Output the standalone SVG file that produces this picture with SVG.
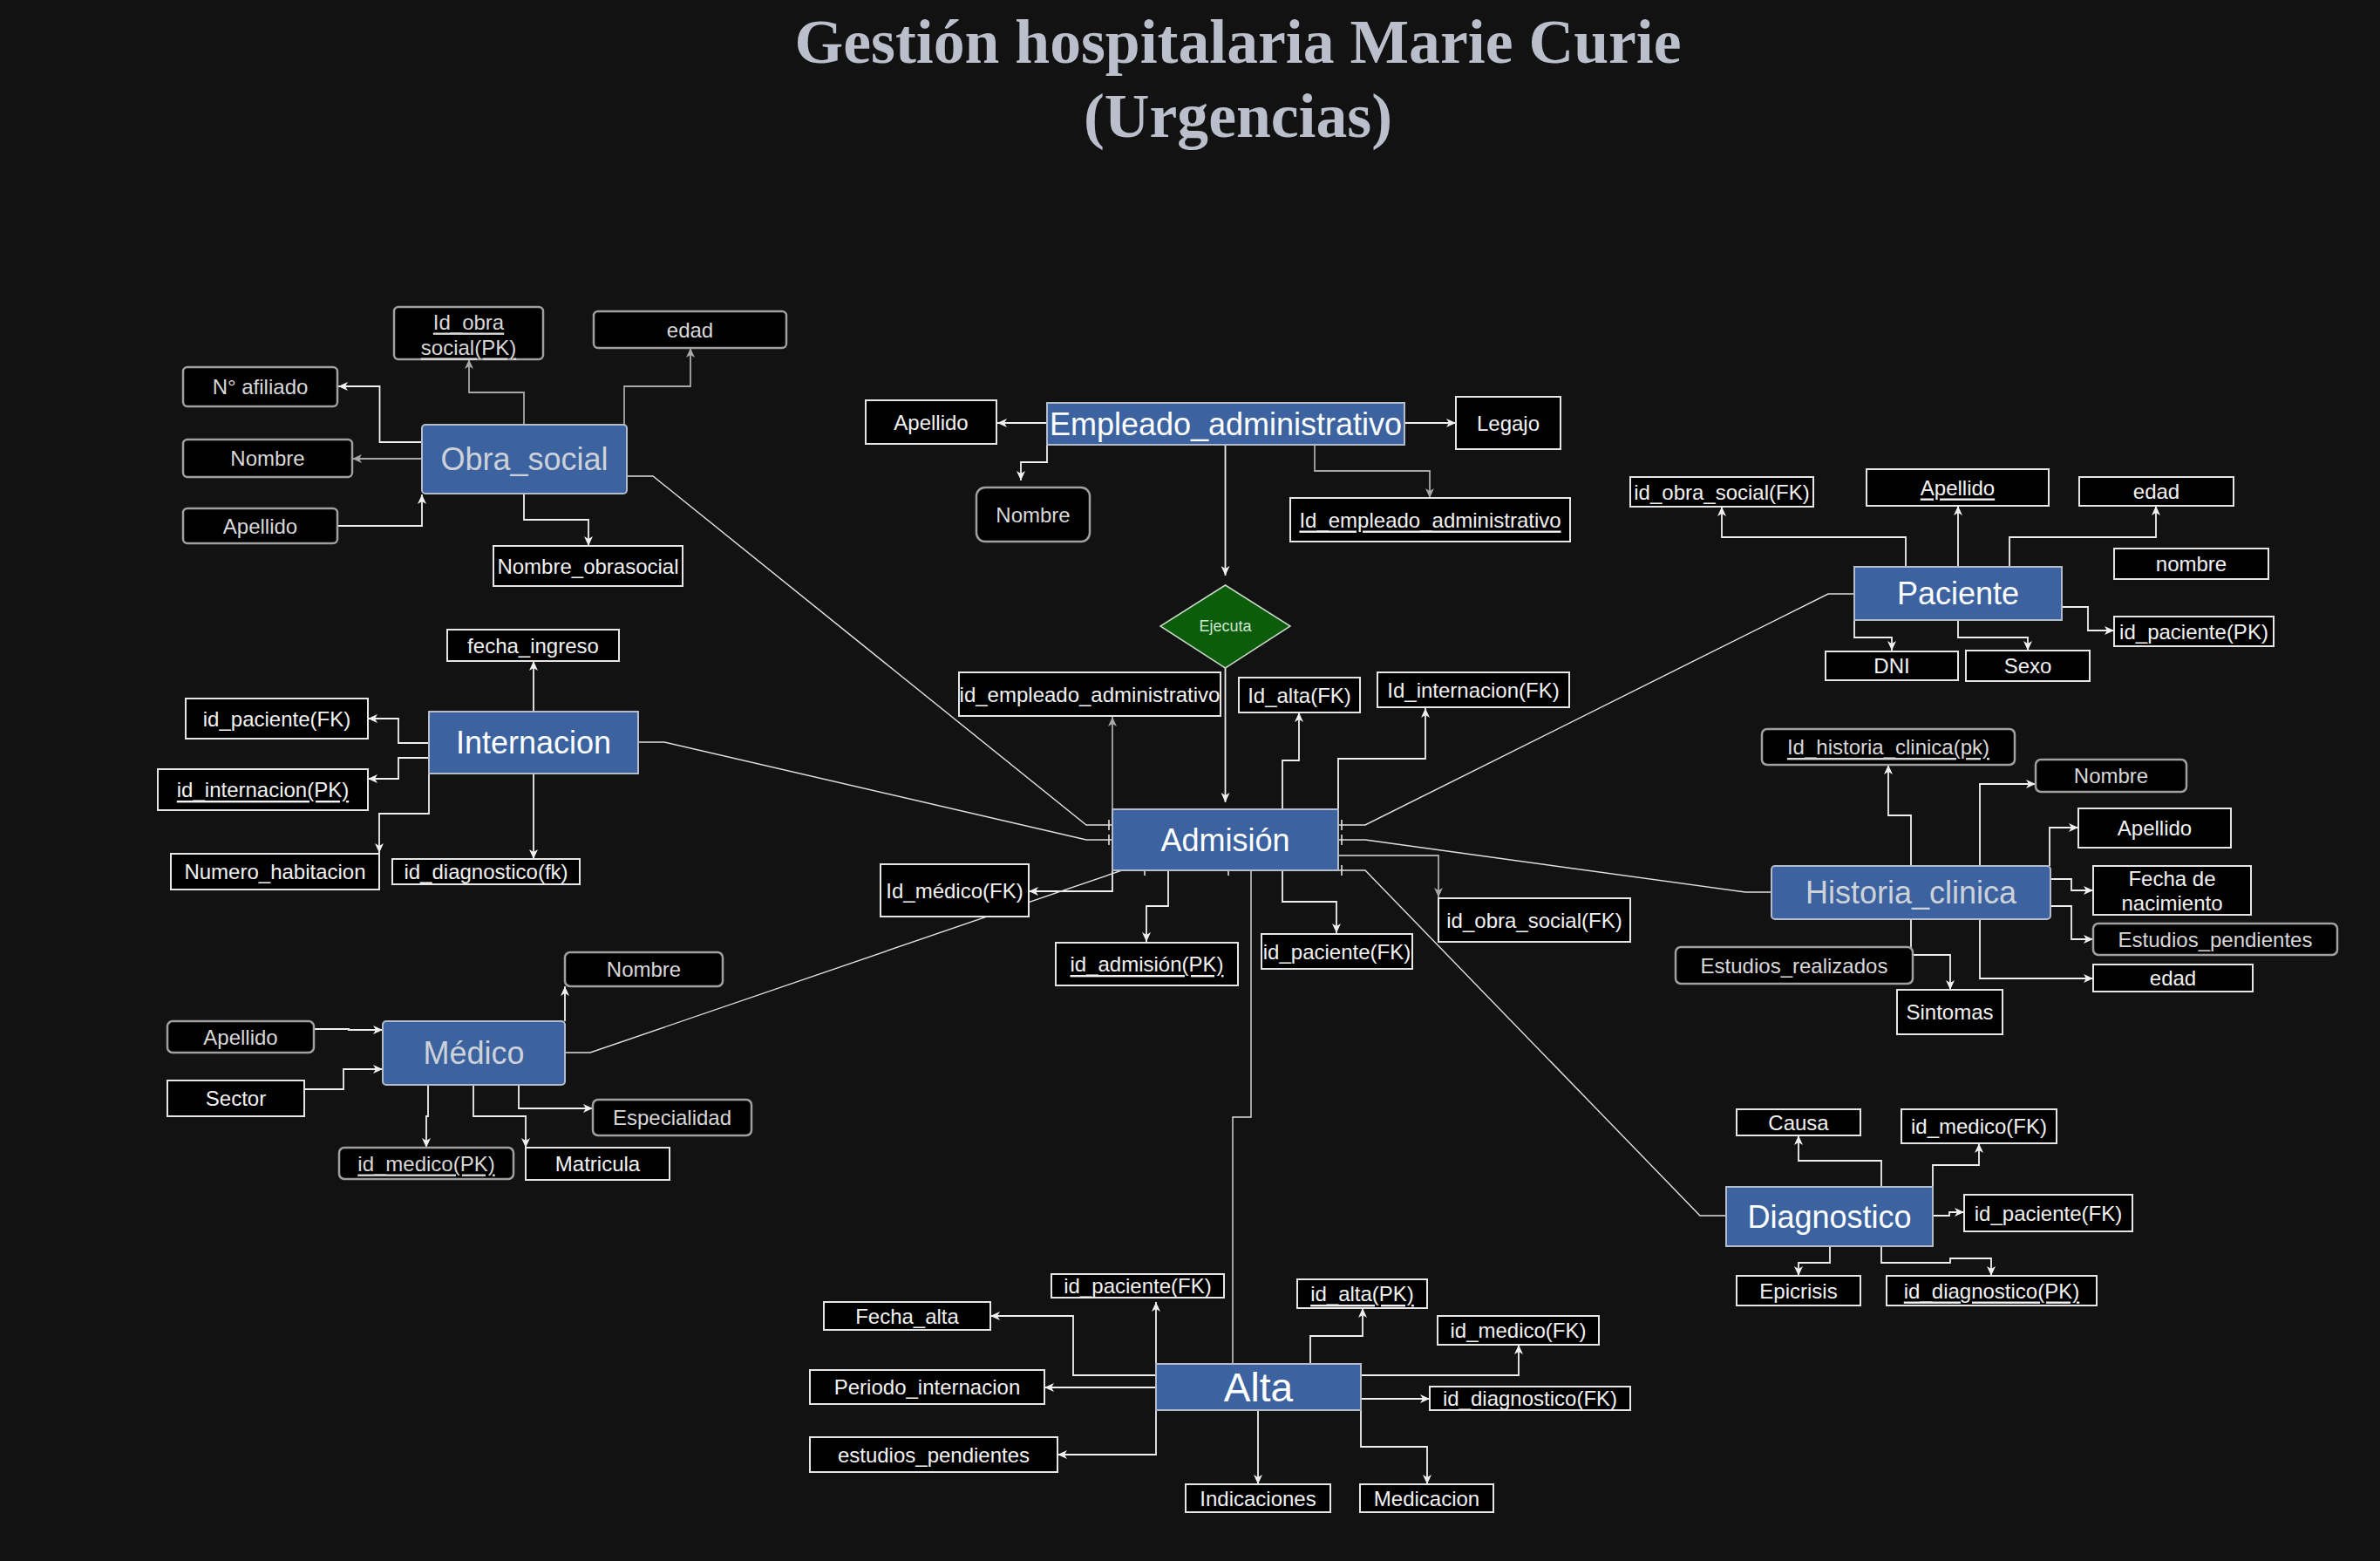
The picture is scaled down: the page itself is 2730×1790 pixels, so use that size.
<svg xmlns="http://www.w3.org/2000/svg" width="2730" height="1790" viewBox="0 0 2730 1790">
<defs>
<style>
text{font-family:"Liberation Sans",Arial,sans-serif;dominant-baseline:central;text-anchor:middle}
.title{font-family:"Liberation Serif","Times New Roman",serif;font-weight:bold;font-size:72px;fill:#babfcb;dominant-baseline:alphabetic}
.ent rect{fill:#3c639f;stroke:#b4bccb;stroke-width:2}
.ent text{fill:#ffffff;font-size:36px}
.ent text.g{fill:#cdd2da}
.sq rect{fill:#000;stroke:#e6e6e6;stroke-width:2}
.rd rect{fill:#000;stroke:#a0a0a0;stroke-width:2.5}
.sq text,.rd text{fill:#f2f2f2;font-size:24px}
.rd text{fill:#d8d8d8}
.u{text-decoration:underline}
.c path{fill:none;stroke:#f0f0f0;stroke-width:1.8;marker-end:url(#aw)}
.c path.g{stroke:#a8a8a8;marker-end:url(#ag)}
.c path.r{stroke:#e0e0e0;stroke-width:1.4;marker-end:none}
.c path.t{stroke:#e0e0e0;stroke-width:1.6;marker-end:none}
</style>
<marker id="aw" markerUnits="userSpaceOnUse" markerWidth="12" markerHeight="10" refX="11" refY="5" orient="auto"><path d="M0,0 L11,5 L0,10 L3,5 z" fill="#f0f0f0"/></marker>
<marker id="ag" markerUnits="userSpaceOnUse" markerWidth="12" markerHeight="10" refX="11" refY="5" orient="auto"><path d="M0,0 L11,5 L0,10 L3,5 z" fill="#a8a8a8"/></marker>
</defs>
<rect x="0" y="0" width="2730" height="1790" fill="#121212"/>
<g id="title">
<text class="title" x="1420" y="72" textLength="1017" lengthAdjust="spacingAndGlyphs">Gestión hospitalaria Marie Curie</text>
<text class="title" x="1420" y="157" textLength="354" lengthAdjust="spacingAndGlyphs">(Urgencias)</text>
</g>
<g id="connectors" class="c">
<path class="g" d="M601,487 V450 H538 V412"/>
<path class="g" d="M716,487 V443 H792 V399"/>
<path d="M484,507 H435.5 V443 H388"/>
<path class="g" d="M484,526 H404"/>
<path d="M388,603 H484 V567"/>
<path d="M601,566 V596 H675 V626"/>
<path d="M1201,485 H1144"/>
<path d="M1611,485 H1670"/>
<path d="M1201,510 V530 H1171 V551"/>
<path class="g" d="M1508,510 V540 H1640 V571"/>
<path d="M1405.5,510 V660"/>
<path d="M1405.5,766 V920"/>
<path class="g" d="M1276,928 V822"/>
<path d="M1471,928 V872 H1490 V817"/>
<path d="M1535,928 V870 H1635 V812"/>
<path d="M1276,998 V1022 H1180"/>
<path d="M1340,998 V1039 H1315 V1080"/>
<path d="M1471,998 V1034 H1533 V1070"/>
<path class="g" d="M1535,981 H1650 V1029"/>
<path d="M2186,650 V616 H1975 V581"/>
<path d="M2246,650 V580"/>
<path d="M2305,650 V616 H2473 V580"/>
<path d="M2365,696 H2395 V723 H2425"/>
<path d="M2127,711 V731 H2170 V746"/>
<path d="M2246,711 V731 H2326 V746"/>
<path d="M612,816 V758"/>
<path d="M492,852 H457 V824 H422"/>
<path d="M492,869 H457 V893 H422"/>
<path d="M492,887 V933 H435 V978"/>
<path d="M612,887 V985"/>
<path d="M2192,993 V935 H2166 V877"/>
<path d="M2271,993 V899 H2335"/>
<path d="M2351,993 V949 H2384"/>
<path d="M2352,1008 H2376 V1021 H2401"/>
<path d="M2352,1039 H2376 V1077 H2401"/>
<path d="M2271,1054 V1122 H2401"/>
<path d="M2192,1054 V1095 H2237 V1135"/>
<path d="M648,1171 V1131"/>
<path d="M360,1180 H400 V1181 H439"/>
<path d="M349,1249 H394 V1226 H439"/>
<path d="M491,1244 V1280 H489 V1316"/>
<path d="M543,1244 V1280 H603 V1316"/>
<path d="M595,1244 V1271 H680"/>
<path d="M2158,1361 V1331 H2063 V1302"/>
<path d="M2217,1361 V1336 H2270 V1311"/>
<path d="M2217,1394 H2236 V1390 H2253"/>
<path d="M2099,1429 V1448 H2063 V1463"/>
<path d="M2158,1429 V1448 H2237 V1443 H2284 V1463"/>
<path d="M1326,1564 V1493"/>
<path d="M1326,1577 H1231 V1509 H1136"/>
<path d="M1326,1591 H1198"/>
<path d="M1326,1617 V1668 H1213"/>
<path d="M1503,1564 V1532 H1563 V1500"/>
<path d="M1561,1577 H1742 V1542"/>
<path d="M1561,1604 H1640"/>
<path d="M1443,1617 V1702"/>
<path d="M1561,1617 V1659 H1637 V1702"/>
<path class="r" d="M719,546 H749 L1246,946 H1276"/>
<path class="r" d="M732,851 H762 L1246,963 H1276"/>
<path class="r" d="M648,1207 H677 L1287,998 H1313"/>
<path class="r" d="M2127,681 H2097 L1566,946 H1535"/>
<path class="r" d="M2032,1023 H2002 L1566,963 H1535"/>
<path class="r" d="M1980,1394 H1950 L1566,998 H1535"/>
<path class="r" d="M1435,998 V1281 H1414 V1564"/>
<path class="t" d="M1272,940 V952 M1272,957 V969 M1539,940 V952 M1539,957 V969 M1539,992 V1004 M1313,992 V1004 M1409,992 V1004"/>
</g>
<g id="ejecuta">
<polygon points="1405.5,671 1480,718 1405.5,766 1331,718" fill="#0b5c0b" stroke="#c8d8c8" stroke-width="1.5"/>
<text x="1405.5" y="718" font-size="18" fill="#cfe6cf">Ejecuta</text>
</g>
<g id="obra_social" class="ent"><rect x="484" y="487" width="235" height="79" rx="4"/><text class="g" x="601.5" y="526.5">Obra_social</text></g>
<g id="empleado_administrativo" class="ent"><rect x="1201" y="462" width="410" height="48"/><text x="1406" y="486">Empleado_administrativo</text></g>
<g id="paciente" class="ent"><rect x="2127" y="650" width="238" height="61"/><text x="2246" y="680.5">Paciente</text></g>
<g id="internacion" class="ent"><rect x="492" y="816" width="240" height="71"/><text x="612" y="851.5">Internacion</text></g>
<g id="admision" class="ent"><rect x="1276" y="928" width="259" height="70"/><text x="1405.5" y="963">Admisión</text></g>
<g id="historia_clinica" class="ent"><rect x="2032" y="993" width="320" height="61" rx="4"/><text class="g" x="2192" y="1023.5">Historia_clinica</text></g>
<g id="medico" class="ent"><rect x="439" y="1171" width="209" height="73" rx="4"/><text class="g" x="543.5" y="1207.5">Médico</text></g>
<g id="diagnostico" class="ent"><rect x="1980" y="1361" width="237" height="68"/><text x="2098.5" y="1395">Diagnostico</text></g>
<g id="alta" class="ent"><rect x="1326" y="1564" width="235" height="53"/><text x="1443.5" y="1590.5" font-size="46" style="font-size:46px">Alta</text></g>

<g id="os_id" class="rd"><rect x="452" y="352" width="171" height="60" rx="5"/><text class="u" x="537.5" y="369">Id_obra</text><text class="u" x="537.5" y="398">social(PK)</text></g>
<g id="os_edad" class="rd"><rect x="681" y="357" width="221" height="42" rx="5"/><text x="791.5" y="378">edad</text></g>
<g id="os_afiliado" class="rd"><rect x="210" y="421" width="177" height="45" rx="5"/><text x="298.5" y="443.5">N° afiliado</text></g>
<g id="os_nombre" class="rd"><rect x="210" y="504" width="194" height="43" rx="5"/><text x="307" y="525.5">Nombre</text></g>
<g id="os_apellido" class="rd"><rect x="210" y="583" width="177" height="40" rx="5"/><text x="298.5" y="603">Apellido</text></g>
<g id="os_nombreobra" class="sq"><rect x="566" y="626" width="217" height="46"/><text x="674.5" y="649">Nombre_obrasocial</text></g>

<g id="emp_apellido" class="sq"><rect x="993" y="459" width="150" height="50"/><text x="1068" y="484">Apellido</text></g>
<g id="emp_legajo" class="sq"><rect x="1670" y="455" width="120" height="60"/><text x="1730" y="485">Legajo</text></g>
<g id="emp_nombre" class="rd"><rect x="1120" y="559" width="130" height="62" rx="10"/><text x="1185" y="590">Nombre</text></g>
<g id="emp_id" class="sq"><rect x="1480" y="571" width="321" height="50"/><text class="u" x="1640.5" y="596">Id_empleado_administrativo</text></g>

<g id="adm_idemp" class="sq"><rect x="1100" y="771" width="300" height="50"/><text x="1250" y="796">id_empleado_administrativo</text></g>
<g id="adm_idalta" class="sq"><rect x="1421" y="777" width="139" height="40"/><text x="1490.5" y="797">Id_alta(FK)</text></g>
<g id="adm_idint" class="sq"><rect x="1580" y="771" width="220" height="40"/><text x="1690" y="791">Id_internacion(FK)</text></g>
<g id="adm_idmed" class="sq"><rect x="1010" y="991" width="170" height="60"/><text x="1095" y="1021">Id_médico(FK)</text></g>
<g id="adm_id" class="sq"><rect x="1211" y="1081" width="209" height="49"/><text class="u" x="1315.5" y="1105.5">id_admisión(PK)</text></g>
<g id="adm_idpac" class="sq"><rect x="1447" y="1071" width="173" height="40"/><text x="1533.5" y="1091">id_paciente(FK)</text></g>
<g id="adm_idos" class="sq"><rect x="1650" y="1030" width="220" height="50"/><text x="1760" y="1055">id_obra_social(FK)</text></g>

<g id="pac_idos" class="sq"><rect x="1870" y="547" width="210" height="34"/><text x="1975" y="564">id_obra_social(FK)</text></g>
<g id="pac_apellido" class="sq"><rect x="2141" y="538" width="209" height="42"/><text class="u" x="2245.5" y="559">Apellido</text></g>
<g id="pac_edad" class="sq"><rect x="2385" y="547" width="177" height="33"/><text x="2473.5" y="563.5">edad</text></g>
<g id="pac_nombre" class="sq"><rect x="2425" y="629" width="177" height="35"/><text x="2513.5" y="646.5">nombre</text></g>
<g id="pac_id" class="sq"><rect x="2425" y="707" width="183" height="34"/><text x="2516.5" y="724">id_paciente(PK)</text></g>
<g id="pac_dni" class="sq"><rect x="2094" y="747" width="152" height="33"/><text x="2170" y="763.5">DNI</text></g>
<g id="pac_sexo" class="sq"><rect x="2255" y="746" width="142" height="35"/><text x="2326" y="763.5">Sexo</text></g>

<g id="int_fecha" class="sq"><rect x="513" y="722" width="197" height="36"/><text x="611.5" y="740">fecha_ingreso</text></g>
<g id="int_idpac" class="sq"><rect x="213" y="801" width="209" height="46"/><text x="317.5" y="824">id_paciente(FK)</text></g>
<g id="int_id" class="sq"><rect x="181" y="882" width="241" height="47"/><text class="u" x="301.5" y="905.5">id_internacion(PK)</text></g>
<g id="int_hab" class="sq"><rect x="196" y="979" width="239" height="41"/><text x="315.5" y="999.5">Numero_habitacion</text></g>
<g id="int_iddiag" class="sq"><rect x="450" y="985" width="215" height="29"/><text x="557.5" y="999.5">id_diagnostico(fk)</text></g>

<g id="hc_id" class="rd"><rect x="2021" y="836" width="290" height="41" rx="6"/><text class="u" x="2166" y="856.5">Id_historia_clinica(pk)</text></g>
<g id="hc_nombre" class="rd"><rect x="2335" y="871" width="173" height="37" rx="6"/><text x="2421.5" y="889.5">Nombre</text></g>
<g id="hc_apellido" class="sq"><rect x="2384" y="927" width="175" height="45"/><text x="2471.5" y="949.5">Apellido</text></g>
<g id="hc_fecha" class="sq"><rect x="2401" y="993" width="181" height="56"/><text x="2491.5" y="1007">Fecha de</text><text x="2491.5" y="1035">nacimiento</text></g>
<g id="hc_estpend" class="rd"><rect x="2401" y="1059" width="280" height="36" rx="6"/><text x="2541" y="1077">Estudios_pendientes</text></g>
<g id="hc_edad" class="sq"><rect x="2401" y="1106" width="183" height="31"/><text x="2492.5" y="1121.5">edad</text></g>
<g id="hc_estreal" class="rd"><rect x="1922" y="1086" width="272" height="42" rx="6"/><text x="2058" y="1107">Estudios_realizados</text></g>
<g id="hc_sintomas" class="sq"><rect x="2176" y="1135" width="121" height="51"/><text x="2236.5" y="1160.5">Sintomas</text></g>

<g id="med_nombre" class="rd"><rect x="648" y="1092" width="181" height="39" rx="6"/><text x="738.5" y="1111.5">Nombre</text></g>
<g id="med_apellido" class="rd"><rect x="192" y="1171" width="168" height="36" rx="6"/><text x="276" y="1189">Apellido</text></g>
<g id="med_sector" class="sq"><rect x="192" y="1239" width="157" height="41"/><text x="270.5" y="1259.5">Sector</text></g>
<g id="med_esp" class="rd"><rect x="680" y="1261" width="182" height="41" rx="6"/><text x="771" y="1281.5">Especialidad</text></g>
<g id="med_id" class="rd"><rect x="389" y="1316" width="200" height="36" rx="6"/><text class="u" x="489" y="1334">id_medico(PK)</text></g>
<g id="med_matricula" class="sq"><rect x="603" y="1316" width="165" height="37"/><text x="685.5" y="1334.5">Matricula</text></g>

<g id="diag_causa" class="sq"><rect x="1992" y="1272" width="142" height="30"/><text x="2063" y="1287">Causa</text></g>
<g id="diag_idmed" class="sq"><rect x="2181" y="1272" width="178" height="39"/><text x="2270" y="1291.5">id_medico(FK)</text></g>
<g id="diag_idpac" class="sq"><rect x="2253" y="1370" width="193" height="42"/><text x="2349.5" y="1391">id_paciente(FK)</text></g>
<g id="diag_epicrisis" class="sq"><rect x="1992" y="1463" width="142" height="34"/><text x="2063" y="1480">Epicrisis</text></g>
<g id="diag_id" class="sq"><rect x="2164" y="1463" width="241" height="34"/><text class="u" x="2284.5" y="1480">id_diagnostico(PK)</text></g>

<g id="alta_idpac" class="sq"><rect x="1206" y="1461" width="198" height="27"/><text x="1305" y="1474.5">id_paciente(FK)</text></g>
<g id="alta_id" class="sq"><rect x="1488" y="1467" width="149" height="33"/><text class="u" x="1562.5" y="1483.5">id_alta(PK)</text></g>
<g id="alta_fecha" class="sq"><rect x="945" y="1493" width="191" height="32"/><text x="1040.5" y="1509">Fecha_alta</text></g>
<g id="alta_idmed" class="sq"><rect x="1649" y="1509" width="185" height="33"/><text x="1741.5" y="1525.5">id_medico(FK)</text></g>
<g id="alta_periodo" class="sq"><rect x="929" y="1571" width="269" height="39"/><text x="1063.5" y="1590.5">Periodo_internacion</text></g>
<g id="alta_iddiag" class="sq"><rect x="1640" y="1590" width="230" height="27"/><text x="1755" y="1603.5">id_diagnostico(FK)</text></g>
<g id="alta_estpend" class="sq"><rect x="929" y="1648" width="284" height="40"/><text x="1071" y="1668">estudios_pendientes</text></g>
<g id="alta_indic" class="sq"><rect x="1360" y="1702" width="166" height="32"/><text x="1443" y="1718">Indicaciones</text></g>
<g id="alta_medic" class="sq"><rect x="1560" y="1702" width="153" height="32"/><text x="1636.5" y="1718">Medicacion</text></g>
</svg>
